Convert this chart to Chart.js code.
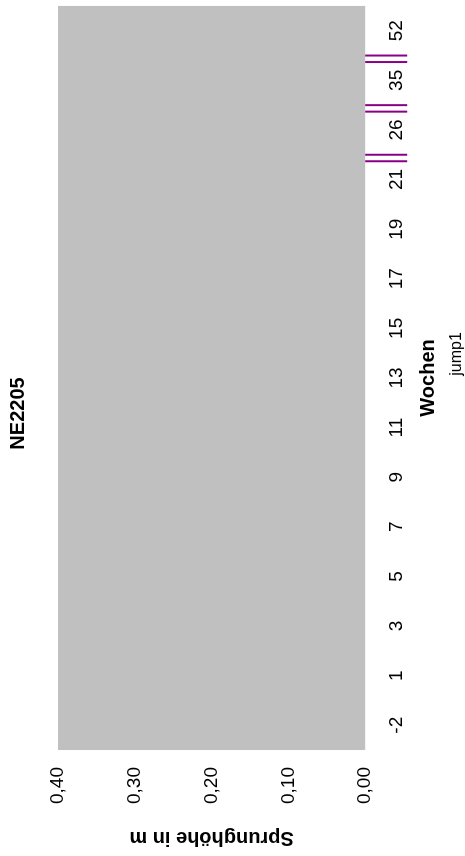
<!DOCTYPE html>
<html>
<head>
<meta charset="utf-8">
<title>NE2205</title>
<script src="https://cdn.jsdelivr.net/npm/chart.js@4.4.0/dist/chart.umd.min.js"></script>
<style>
  html, body { margin: 0; padding: 0; background: #fff; overflow: hidden; }
  /* chart is laid out landscape and turned onto its side */
  #wrap {
    position: absolute; left: 0; top: 0;
    width: 856px; height: 465px;
    transform-origin: 0 0;
    transform: translateY(856px) rotate(-90deg);
  }
</style>
</head>
<body>
<div id="wrap"><canvas id="sprungChart"></canvas></div>
<script>
// Wochen (Kategorien) und Sprunghöhen
const wochen = ["-2", "1", "3", "5", "7", "9", "11", "13", "15", "17", "19", "21", "26", "35", "52"];
const jump1 = [null, null, null, null, null, null, null, null, null, null, null, null, null, null, null];
const hoeheTicks = [0, 0.1, 0.2, 0.3, 0.4];
// Achsenbrüche nach diesen Wochen
const bruecheNach = ["21", "26", "35"];

const SCHRIFT = "'Liberation Sans', Arial, sans-serif";

const flaechePlugin = {
  id: "flaeche",
  beforeDraw(chart) {
    const { ctx, chartArea: a } = chart;
    ctx.save();
    ctx.fillStyle = "#c0c0c0";
    ctx.fillRect(a.left, a.top, a.right - a.left, a.bottom - a.top);
    ctx.restore();
  },
};

const bruchPlugin = {
  id: "achsenbruch",
  afterDraw(chart) {
    const { ctx, chartArea, scales } = chart;
    const x = scales.x;
    ctx.save();
    ctx.strokeStyle = "#880088";
    ctx.lineWidth = 2;
    bruecheNach.forEach((w) => {
      const i = wochen.indexOf(w);
      const mitte = (x.getPixelForValue(i) + x.getPixelForValue(i + 1)) / 2;
      [-6.5, 0].forEach((d) => {
        ctx.beginPath();
        ctx.moveTo(mitte + d, chartArea.bottom);
        ctx.lineTo(mitte + d, chartArea.bottom + 42);
        ctx.stroke();
      });
    });
    ctx.restore();
  },
};

new Chart(document.getElementById("sprungChart"), {
  type: "bar",
  data: {
    labels: wochen,
    datasets: [
      {
        label: "jump1",
        data: jump1,
        backgroundColor: "rgba(0,0,0,0)",
        borderWidth: 0,
      },
    ],
  },
  options: {
    responsive: true,
    maintainAspectRatio: false,
    animation: false,
    devicePixelRatio: 1,
    layout: { padding: { left: 34, right: 5, top: 0, bottom: 0 } },
    plugins: {
      title: {
        display: true,
        text: "NE2205",
        color: "#000",
        font: { family: SCHRIFT, size: 20, weight: "bold" },
        padding: { top: 6.5, bottom: 27.5 },
      },
      legend: {
        position: "bottom",
        fullSize: false,
        maxHeight: 16,
        labels: {
          color: "#000",
          font: { family: SCHRIFT, size: 16 },
          boxWidth: 40,
          padding: 0,
        },
      },
      tooltip: { enabled: false },
    },
    scales: {
      x: {
        type: "category",
        grid: { display: false, drawTicks: false },
        border: { display: false },
        ticks: {
          color: "#000",
          font: { family: SCHRIFT, size: 19 },
          autoSkip: false,
          maxRotation: 0,
          padding: 20,
        },
        title: {
          display: true,
          text: "Wochen",
          color: "#000",
          font: { family: SCHRIFT, size: 20, weight: "bold" },
          padding: { top: -12, bottom: 9 },
        },
      },
      y: {
        min: hoeheTicks[0],
        max: hoeheTicks[hoeheTicks.length - 1],
        grid: { display: false, drawTicks: false },
        border: { display: false },
        ticks: {
          stepSize: 0.1,
          color: "#000",
          font: { family: SCHRIFT, size: 19 },
          padding: 17,
          callback: (v) => v.toFixed(2).replace(".", ","),
        },
        title: {
          display: true,
          text: "Sprunghöhe in m",
          color: "#000",
          font: { family: SCHRIFT, size: 20, weight: "bold" },
          padding: { top: -28, bottom: 5 },
        },
      },
    },
  },
  plugins: [flaechePlugin, bruchPlugin],
});
</script>
</body>
</html>
